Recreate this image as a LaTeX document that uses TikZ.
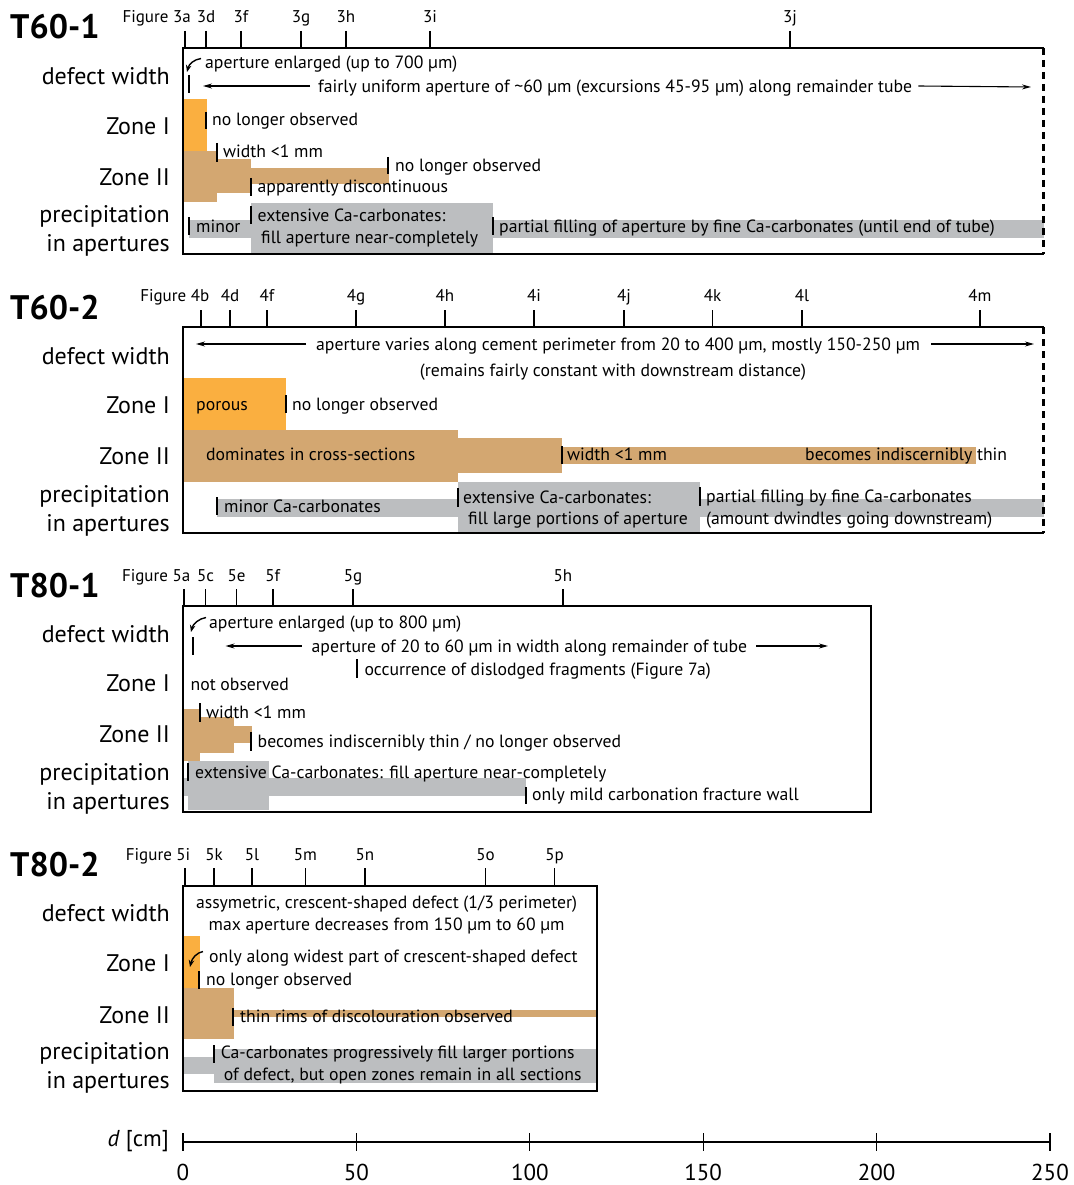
\documentclass[tikz,border=0pt]{standalone}
\usepackage{fontspec}
\setmainfont{PT Sans}
\usetikzlibrary{arrows.meta}
\definecolor{zoneI}{RGB}{250,175,64}
\definecolor{zoneII}{RGB}{211,167,113}
\definecolor{precip}{RGB}{188,190,192}
\tikzset{
  txt/.style={font=\fontsize{17.7}{20}\selectfont, inner sep=0pt, anchor=west, text height=15pt, text depth=2pt},
  ctxt/.style={txt, anchor=center},
  rowlbl/.style={font=\fontsize{24}{26}\selectfont, inner sep=0pt, anchor=east, text height=19pt, text depth=2pt},
  ttl/.style={font=\fontsize{34}{36}\bfseries\selectfont, inner sep=0pt, anchor=west, text height=24pt, text depth=0pt},
  figl/.style={font=\fontsize{17}{19}\selectfont, inner sep=0pt, text height=12pt, text depth=3pt},
  axl/.style={font=\fontsize{23}{25}\selectfont, inner sep=0pt},
  mk/.style={line width=2pt},
  ftick/.style={line width=1.6pt},
  frame/.style={line width=2.2pt},
  arr/.style={line width=1.1pt, -{Stealth[length=9pt,width=5pt]}},
  carr/.style={line width=1.4pt, -{Stealth[length=7pt,width=5.5pt]}},
  fI/.style={fill=zoneI},
  fII/.style={fill=zoneII},
  fP/.style={fill=precip}
}
\begin{document}
\begin{tikzpicture}[x=1pt,y=-1pt]
\useasboundingbox (0,0) rectangle (1073,1185);

% ================= T60-1 =================
\node[ttl] (ta) at (10,27) {T60-1};
\node[figl,anchor=east] (fa0) at (191,18) {Figure 3a};
\draw[ftick] (185,31) -- (185,48);
\foreach \x/\l in {206/3d,241/3f,301/3g,346/3h,430/3i,790/3j}{
  \node[figl] (fa\l) at (\x,18) {\l};
  \draw[ftick] (\x,31) -- (\x,48);
}
\fill[fI] (183,99) rectangle (207,151);
\fill[fII] (183,151) rectangle (217,202);
\fill[fII] (217,159) rectangle (251,193);
\fill[fII] (251,168) rectangle (389,184);
\fill[fP] (189,220) rectangle (251,238);
\fill[fP] (251,203) rectangle (493,253);
\fill[fP] (493,220) rectangle (1043.5,238);
\draw[frame] (1043.5,48) -- (183,48) -- (183,254) -- (1043.5,254);
\draw[frame,dashed,dash pattern=on 7pt off 5pt] (1043.5,48) -- (1043.5,254);

\node[rowlbl] (ra1) at (170,76) {defect width};
\node[rowlbl] (ra2) at (170,126) {Zone I};
\node[rowlbl] (ra3) at (170,177) {Zone II};
\node[rowlbl] (ra4) at (170,214) {precipitation};
\node[rowlbl] (ra5) at (170,243) {in apertures};

\node[txt] (a1) at (205,62) {aperture enlarged (up to 700 µm)};
\coordinate (a1s) at (201,58.5);
\coordinate (a1e) at (187,72);
\draw[carr] (a1s) .. controls (194,59.5) and (189,64) .. (a1e);
\draw[mk] (189,75) -- (189,93);
\node[txt] (a2) at (318,86) {fairly uniform aperture of \textasciitilde60 µm (excursions 45-95 µm) along remainder tube};
\coordinate (a2l) at (203,86);
\coordinate (a2r) at (1031,87);
\draw[arr] ([xshift=-8pt]a2.west) -- (a2l);
\draw[arr] ([xshift=6pt]a2.east) -- (a2r);
\draw[mk] (206,112) -- (206,129);
\node[txt] (a3) at (212,119) {no longer observed};
\draw[mk] (217,143) -- (217,162);
\node[txt] (a4) at (223,151) {width <1 mm};
\draw[mk] (388,157) -- (388,174);
\node[txt] (a5) at (395,165) {no longer observed};
\draw[mk] (251,178) -- (251,196);
\node[txt] (a6) at (257.5,186) {apparently discontinuous};
\draw[mk] (189,217) -- (189,235);
\node[txt] (a7) at (196,226) {minor};
\draw[mk] (251,206) -- (251,224);
\node[txt] (a8) at (257.5,215) {extensive Ca-carbonates:};
\node[txt] (a9) at (261,237) {fill aperture near-completely};
\draw[mk] (493,217) -- (493,235);
\node[txt] (a10) at (499,226) {partial filling of aperture by fine Ca-carbonates (until end of tube)};

% ================= T60-2 =================
\node[ttl] (tb) at (10,307) {T60-2};
\node[figl,anchor=east] (fb0) at (209.5,297) {Figure 4b};
\draw[ftick] (201,310) -- (201,327);
\foreach \x/\l in {230/4d,267/4f,356/4g,445/4h,534/4i,624/4j,712.5/4k,802/4l,980/4m}{
  \node[figl] (fb\l) at (\x,297) {\l};
  \draw[ftick] (\x,310) -- (\x,327);
}
\fill[fI] (183,378) rectangle (286,430);
\fill[fII] (183,430) rectangle (458,482);
\fill[fII] (458,438) rectangle (562,473);
\fill[fII] (562,447) rectangle (975.5,464);
\fill[fP] (217,499) rectangle (458,517);
\fill[fP] (458,482) rectangle (700,532);
\fill[fP] (700,499) rectangle (1043.5,517);
\draw[frame] (1043.5,327) -- (183,327) -- (183,533) -- (1043.5,533);
\draw[frame,dashed,dash pattern=on 7pt off 5pt] (1043.5,327) -- (1043.5,533);

\node[rowlbl] (rb1) at (170,356) {defect width};
\node[rowlbl] (rb2) at (170,405) {Zone I};
\node[rowlbl] (rb3) at (170,456) {Zone II};
\node[rowlbl] (rb4) at (170,494) {precipitation};
\node[rowlbl] (rb5) at (170,523) {in apertures};

\node[txt] (b1) at (316,344) {aperture varies along cement perimeter from 20 to 400 µm, mostly 150-250 µm};
\coordinate (b1l) at (196,344);
\coordinate (b1r) at (1034,344);
\draw[arr] ([xshift=-10pt]b1.west) -- (b1l);
\draw[arr] ([xshift=11pt]b1.east) -- (b1r);
\node[ctxt] (b2) at (613,370) {(remains fairly constant with downstream distance)};
\node[txt] (b3) at (196,404) {porous};
\draw[mk] (286,395) -- (286,413);
\node[txt] (b4) at (292,404) {no longer observed};
\node[txt] (b5) at (206,454) {dominates in cross-sections};
\draw[mk] (562,446) -- (562,464);
\node[txt] (b6) at (567,454) {width <1 mm};
\node[txt] (b7) at (805,454) {becomes indiscernibly thin};
\draw[mk] (217,497) -- (217,515);
\node[txt] (b8) at (224,506) {minor Ca-carbonates};
\draw[mk] (458,488) -- (458,507);
\node[txt] (b9) at (463,497) {extensive Ca-carbonates:};
\node[txt] (b10) at (468,518) {fill large portions of aperture};
\draw[mk] (700,487) -- (700,506);
\node[txt] (b11) at (706,496) {partial filling by fine Ca-carbonates};
\node[txt] (b12) at (706,518) {(amount dwindles going downstream)};

% ================= T80-1 =================
\node[ttl] (tc) at (10,585) {T80-1};
\node[figl,anchor=east] (fc0) at (190.5,577) {Figure 5a};
\draw[ftick] (184,589) -- (184,606);
\foreach \x/\l in {205.6/5c,236.6/5e,272.7/5f,353/5g,563/5h}{
  \node[figl] (fc\l) at (\x,577) {\l};
  \draw[ftick] (\x,589) -- (\x,606);
}
\fill[fII] (183,709) rectangle (200,761);
\fill[fII] (200,717) rectangle (234,753);
\fill[fII] (234,726) rectangle (252,743);
\fill[fP] (188.4,761) rectangle (268.6,810);
\fill[fP] (183,778) rectangle (526,796);
\draw[frame] (183,606) rectangle (871,812);

\node[rowlbl] (rc1) at (170,634) {defect width};
\node[rowlbl] (rc2) at (170,683) {Zone I};
\node[rowlbl] (rc3) at (170,734) {Zone II};
\node[rowlbl] (rc4) at (170,772) {precipitation};
\node[rowlbl] (rc5) at (170,801) {in apertures};

\node[txt] (c1) at (209,622) {aperture enlarged (up to 800 µm)};
\coordinate (c1s) at (206,617.5);
\coordinate (c1e) at (191,632);
\draw[carr] (c1s) .. controls (199,618.5) and (193,624) .. (c1e);
\draw[mk] (193,637) -- (193,655);
\node[txt] (c2) at (311.5,646) {aperture of 20 to 60 µm in width along remainder of tube};
\coordinate (c2l) at (225.5,646);
\coordinate (c2r) at (828,646);
\draw[arr] ([xshift=-10pt]c2.west) -- (c2l);
\draw[arr] ([xshift=9pt]c2.east) -- (c2r);
\draw[mk] (357.4,659) -- (357.4,678);
\node[txt] (c3) at (364.3,669) {occurrence of dislodged fragments (Figure 7a)};
\node[txt] (c4) at (190.4,684) {not observed};
\draw[mk] (200.4,703) -- (200.4,722);
\node[txt] (c5) at (206,712) {width <1 mm};
\draw[mk] (251,732) -- (251,751);
\node[txt] (c6) at (257.5,741) {becomes indiscernibly thin / no longer observed};
\draw[mk] (187.7,763) -- (187.7,781);
\node[txt] (c7) at (195,772) {extensive Ca-carbonates: fill aperture near-completely};
\draw[mk] (526,787) -- (526,804);
\node[txt] (c8) at (532,794) {only mild carbonation fracture wall};

% ================= T80-2 =================
\node[ttl] (td) at (10,864) {T80-2};
\node[figl,anchor=east] (fd0) at (190.5,856) {Figure 5i};
\draw[ftick] (184.8,868) -- (184.8,885.7);
\foreach \x/\l in {214/5k,252/5l,305.4/5m,365/5n,485.6/5o,554.5/5p}{
  \node[figl] (fd\l) at (\x,856) {\l};
  \draw[ftick] (\x,868) -- (\x,885.7);
}
\fill[fI] (183,936) rectangle (199.6,987.7);
\fill[fII] (183,987.7) rectangle (233.5,1039);
\fill[fII] (233.5,1010) rectangle (597,1016.7);
\fill[fP] (183,1057) rectangle (597,1074);
\fill[fP] (214,1049) rectangle (597,1083.3);
\draw[frame] (183,885.7) rectangle (597,1090.7);

\node[rowlbl] (rd1) at (170,912.7) {defect width};
\node[rowlbl] (rd2) at (170,963) {Zone I};
\node[rowlbl] (rd3) at (170,1015) {Zone II};
\node[rowlbl] (rd4) at (170,1051) {precipitation};
\node[rowlbl] (rd5) at (170,1080) {in apertures};

\node[ctxt] (d1) at (386.6,901.7) {assymetric, crescent-shaped defect (1/3 perimeter)};
\node[ctxt] (d2) at (386.6,924) {max aperture decreases from 150 µm to 60 µm};
\node[txt] (d3) at (209,955.7) {only along widest part of crescent-shaped defect};
\coordinate (d3s) at (203,951.5);
\coordinate (d3e) at (190,967);
\draw[carr] (d3s) .. controls (197,952.5) and (192,958) .. (d3e);
\draw[mk] (199,971) -- (199,989);
\node[txt] (d4) at (206,979) {no longer observed};
\draw[mk] (232.7,1008) -- (232.7,1026);
\node[txt] (d5) at (240,1015.7) {thin rims of discolouration observed};
\draw[mk] (214,1045) -- (214,1062.7);
\node[txt] (d6) at (220.6,1052) {Ca-carbonates progressively fill larger portions};
\node[txt] (d7) at (223.7,1074) {of defect, but open zones remain in all sections};

% ================= axis =================
\coordinate (ax0) at (183,1142);
\coordinate (ax1) at (1050,1142);
\draw[line width=2pt] (ax0) -- (ax1);
\foreach \v in {0,50,100,150,200,250}{
  \draw[line width=1.1pt] (183+3.468*\v,1133) -- (183+3.468*\v,1151);
  \node[axl] (axl\v) at (183+3.468*\v,1172) {\v};
}
\node[axl, anchor=east] (dlbl) at (169,1141) {\textit{d} [cm]};
\end{tikzpicture}
\end{document}
